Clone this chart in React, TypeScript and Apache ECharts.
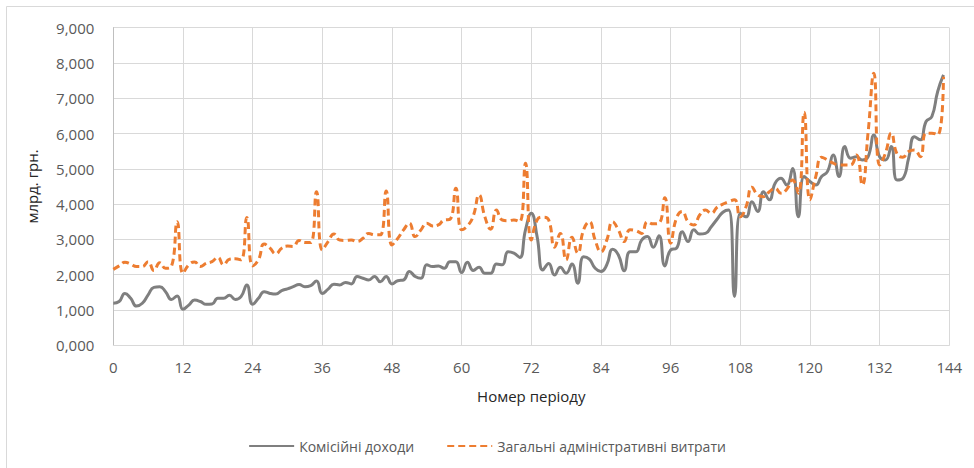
import React, { useEffect, useRef } from "react";
import * as echarts from "echarts";

const commissionIncome: number[] = [
  1.19, 1.24, 1.47, 1.33, 1.11, 1.19, 1.43, 1.64, 1.66, 1.52, 1.30, 1.40,
  1.02, 1.14, 1.28, 1.24, 1.16, 1.17, 1.33, 1.33, 1.42, 1.30, 1.38, 1.71,
  1.16, 1.33, 1.52, 1.47, 1.45, 1.55, 1.60, 1.66, 1.72, 1.66, 1.69, 1.82,
  1.47, 1.59, 1.73, 1.71, 1.78, 1.74, 1.95, 1.90, 1.85, 1.95, 1.80, 1.95,
  1.74, 1.83, 1.85, 2.09, 1.95, 1.90, 2.28, 2.23, 2.25, 2.18, 2.37, 2.37,
  2.06, 2.35, 2.12, 2.21, 2.04, 2.04, 2.30, 2.28, 2.65, 2.61, 2.49, 3.27,
  3.74, 3.08, 2.13, 2.32, 1.99, 2.21, 2.04, 2.30, 1.76, 2.51, 2.44, 2.18,
  2.09, 2.28, 2.72, 2.56, 2.11, 2.65, 2.65, 2.98, 3.08, 2.78, 3.10, 2.25,
  2.70, 2.75, 3.22, 2.94, 3.27, 3.15, 3.17, 3.36, 3.57, 3.77, 3.83, 1.38,
  3.74, 3.64, 4.07, 3.79, 4.35, 4.12, 4.59, 4.73, 4.54, 5.01, 3.64, 4.78,
  4.64, 4.54, 4.78, 4.92, 5.39, 4.78, 5.63, 5.30, 5.34, 5.25, 5.34, 5.96,
  5.34, 5.25, 5.63, 4.68, 4.73, 5.30, 5.91, 5.82, 6.34, 6.48, 7.19, 7.66,
];

const adminExpenses: number[] = [
  2.15, 2.25, 2.35, 2.30, 2.23, 2.23, 2.37, 2.12, 2.34, 2.18, 2.23, 3.50,
  2.04, 2.28, 2.36, 2.23, 2.32, 2.37, 2.49, 2.28, 2.44, 2.45, 2.42, 3.62,
  2.25, 2.42, 2.87, 2.75, 2.59, 2.75, 2.81, 2.80, 2.97, 2.91, 2.91, 4.35,
  2.70, 2.94, 3.15, 2.98, 2.97, 2.98, 2.94, 3.03, 3.17, 3.13, 3.13, 4.37,
  2.84, 3.03, 3.27, 3.46, 3.08, 3.27, 3.46, 3.38, 3.41, 3.55, 3.57, 4.45,
  3.27, 3.38, 3.66, 4.26, 3.64, 3.29, 3.83, 3.55, 3.53, 3.55, 3.50, 5.16,
  2.98, 3.55, 3.63, 3.55, 2.78, 3.17, 2.42, 3.06, 2.61, 3.27, 3.50, 2.98,
  2.65, 2.98, 3.50, 3.27, 2.94, 3.27, 3.25, 3.17, 3.50, 3.44, 3.46, 4.18,
  2.89, 3.60, 3.79, 3.50, 3.41, 3.69, 3.83, 3.74, 3.91, 4.00, 4.07, 4.12,
  3.64, 3.93, 4.48, 4.26, 4.21, 4.35, 4.45, 4.31, 4.42, 4.68, 4.31, 6.60,
  4.12, 4.78, 5.33, 5.25, 5.16, 5.11, 5.11, 5.11, 5.39, 4.54, 6.01, 7.71,
  5.11, 5.44, 6.01, 5.42, 5.33, 5.49, 5.53, 5.34, 6.01, 6.01, 5.96, 7.61,
];

const seriesNames: string[] = ["Комісійні доходи", "Загальні адміністративні витрати"];
const xAxisTitle = "Номер періоду";
const yAxisTitle = "млрд. грн.";

const FONT = "'Open Sans', 'Noto Sans', sans-serif";

export default function App() {
  const ref = useRef<HTMLDivElement>(null);

  useEffect(() => {
    if (!ref.current) return;
    const chart = echarts.init(ref.current, undefined, { renderer: "svg" });
    const toPairs = (arr: number[]) => arr.map((v, i) => [i, v]);
    chart.setOption({
      animation: false,
      backgroundColor: "#ffffff",
      textStyle: { fontFamily: FONT },
      grid: { left: 113.3, right: 24.7, top: 27.6, bottom: 122.7, containLabel: false },
      graphic: [
        {
          type: "rect",
          shape: { x: 6.5, y: 6.5, width: 1000, height: 1000 },
          style: { fill: "none", stroke: "#d9d9d9", lineWidth: 1 },
          silent: true,
          z: -10,
        },
      ],
      legend: {
        bottom: 10,
        left: "center",
        itemWidth: 45,
        itemHeight: 10,
        itemGap: 32,
        itemStyle: { opacity: 0 },
        textStyle: { color: "#595959", fontSize: 14, fontFamily: FONT },
        data: seriesNames,
      },
      xAxis: {
        type: "value",
        min: 0,
        max: 144,
        interval: 12,
        name: xAxisTitle,
        nameLocation: "middle",
        nameGap: 43,
        nameTextStyle: { color: "#262626", fontSize: 15, fontFamily: FONT },
        axisLine: { show: true, lineStyle: { color: "#d9d9d9", width: 1 } },
        axisTick: { show: false },
        axisLabel: { color: "#595959", fontSize: 15, margin: 14, fontFamily: FONT },
        splitLine: { show: true, lineStyle: { color: "#d9d9d9", width: 1 } },
      },
      yAxis: {
        type: "value",
        min: 0,
        max: 9,
        interval: 1,
        name: yAxisTitle,
        nameLocation: "middle",
        nameGap: 74,
        nameRotate: 90,
        nameTextStyle: { color: "#262626", fontSize: 15, fontFamily: FONT },
        axisLine: { show: true, lineStyle: { color: "#bfbfbf", width: 1 } },
        axisTick: { show: false },
        axisLabel: {
          color: "#595959",
          fontSize: 15,
          margin: 19,
          fontFamily: FONT,
          formatter: (v: number) => v.toFixed(3).replace(".", ","),
        },
        splitLine: { show: true, lineStyle: { color: "#d9d9d9", width: 1 } },
      },
      series: [
        {
          name: seriesNames[0],
          type: "line",
          data: toPairs(commissionIncome),
          smooth: 0.5,
          symbol: "none",
          lineStyle: { color: "#7f7f7f", width: 3 },
          itemStyle: { color: "#7f7f7f" },
          z: 2,
        },
        {
          name: seriesNames[1],
          type: "line",
          data: toPairs(adminExpenses),
          smooth: 0.5,
          symbol: "none",
          lineStyle: { color: "#ed7d31", width: 3, type: [7, 4] },
          itemStyle: { color: "#ed7d31" },
          z: 3,
        },
      ],
    });
    return () => chart.dispose();
  }, []);

  return (
    <div
      ref={ref}
      style={{ position: "fixed", left: 0, top: 0, width: 974, height: 468, background: "#fff" }}
    />
  );
}
